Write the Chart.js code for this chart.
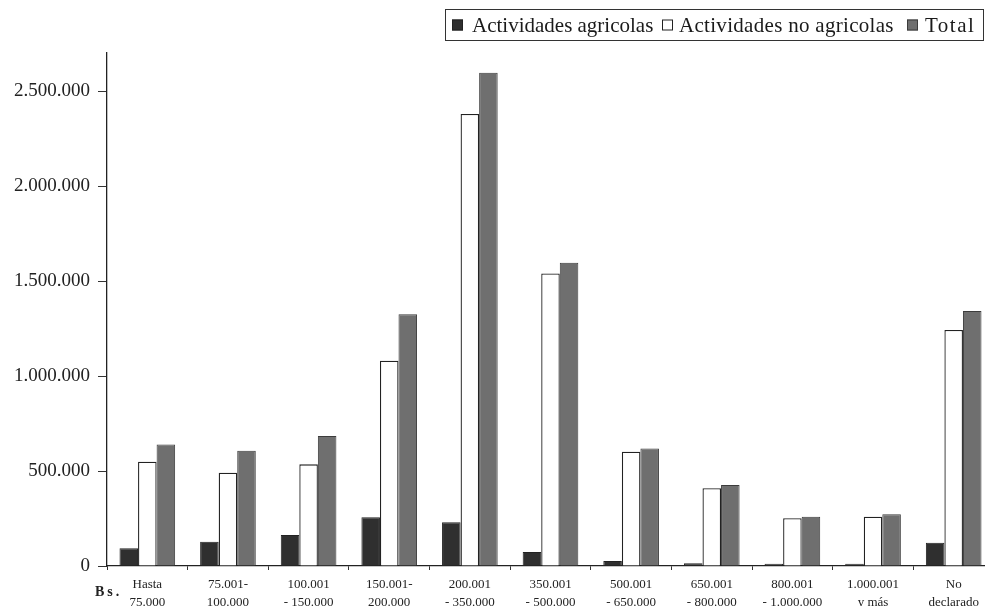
<!DOCTYPE html>
<html>
<head>
<meta charset="utf-8">
<script src="https://cdn.jsdelivr.net/npm/chart.js@4.4.1/dist/chart.umd.min.js"></script>
<style>
  html, body { margin: 0; padding: 0; background: #fff; overflow: hidden; width: 985px; height: 606px; }
  #wrap { width: 1000px; height: 606px; }
</style>
</head>
<body>
<div id="wrap"><canvas id="c" width="1000" height="606"></canvas></div>
<script>
const categories = [
  ["Hasta", "75.000"],
  ["75.001-", "100.000"],
  ["100.001", "- 150.000"],
  ["150.001-", "200.000"],
  ["200.001", "- 350.000"],
  ["350.001", "- 500.000"],
  ["500.001", "- 650.000"],
  ["650.001", "- 800.000"],
  ["800.001", "- 1.000.000"],
  ["1.000.001", "y más"],
  ["No", "declarado"]
];
const seriesNames = ["Actividades agricolas", "Actividades no agricolas", "Total"];
const agricolas   = [93000, 128000, 163000, 256000, 230000, 74000, 26000, 15000, 12000, 12000, 123000];
const noAgricolas = [549000, 491000, 535000, 1080000, 2379000, 1540000, 601000, 409000, 251000, 259000, 1242000];
const total       = [640000, 607000, 684000, 1325000, 2596000, 1596000, 619000, 426000, 259000, 272000, 1342000];
const yTicks = [0, 500000, 1000000, 1500000, 2000000, 2500000];
const currencyLabel = "Bs.";

const fills = ["#2f2f2f", "#ffffff", "#6f6f6f"];
const borders = ["#222222", "#222222", "#3c3c3c"];

function fmt(v) {
  return String(Math.round(v)).replace(/\B(?=(\d{3})+(?!\d))/g, ".");
}

const serif = "'Liberation Serif', 'Times New Roman', serif";

const extrasPlugin = {
  id: 'extras',
  afterDraw(chart) {
    const ctx = chart.ctx;
    ctx.save();
    // Legend
    ctx.font = "21px " + serif;
    ctx.textBaseline = "middle";
    const cy = 25;
    const box = 11;
    const itemStarts = [452, 662, 907];
    const textOffsets = [20, 17, 18];
    const spacings = ["0px", "0.3px", "1.5px"];
    for (let i = 0; i < seriesNames.length; i++) {
      const x = itemStarts[i];
      ctx.fillStyle = fills[i];
      ctx.fillRect(x, cy - box / 2, box, box);
      ctx.strokeStyle = borders[i];
      ctx.lineWidth = 1;
      ctx.strokeRect(x + 0.5, cy - box / 2 + 0.5, box - 1, box - 1);
      ctx.fillStyle = "#1a1a1a";
      ctx.letterSpacing = spacings[i];
      ctx.fillText(seriesNames[i], x + textOffsets[i], cy + 1);
    }
    ctx.letterSpacing = "0px";
    ctx.strokeStyle = "#333";
    ctx.lineWidth = 1;
    ctx.strokeRect(445.5, 9.5, 983 - 445, 31);
    // Currency label
    ctx.font = "bold 14px " + serif;
    ctx.fillStyle = "#222";
    ctx.textBaseline = "middle";
    const letters = currencyLabel.split("");
    let bx = 95;
    letters.forEach(ch => {
      ctx.fillText(ch, bx, 592);
      bx += ctx.measureText(ch).width + 3;
    });
    ctx.restore();
  }
};

new Chart(document.getElementById('c'), {
  type: 'bar',
  data: {
    labels: categories,
    datasets: [
      { label: seriesNames[0], data: agricolas, backgroundColor: fills[0], borderColor: borders[0], borderWidth: 1 },
      { label: seriesNames[1], data: noAgricolas, backgroundColor: fills[1], borderColor: borders[1], borderWidth: 1.3 },
      { label: seriesNames[2], data: total, backgroundColor: fills[2], borderColor: borders[2], borderWidth: 1 }
    ]
  },
  options: {
    responsive: false,
    devicePixelRatio: 1,
    animation: false,
    layout: { padding: { top: 53, right: 6, left: 0, bottom: 0 } },
    datasets: { bar: { categoryPercentage: 0.69, barPercentage: 1.0 } },
    plugins: {
      legend: { display: false },
      tooltip: { enabled: false }
    },
    scales: {
      x: {
        grid: { display: true, drawOnChartArea: false, drawTicks: true, tickLength: 4, color: "#333", offset: true },
        border: { display: true, color: "#222", width: 1.3 },
        ticks: {
          color: "#222",
          font: { family: serif, size: 13, lineHeight: 1.35 },
          padding: 6,
          maxRotation: 0,
          autoSkip: false
        },
        afterFit(scale) { scale.height = 40; }
      },
      y: {
        min: 0,
        max: 2700000,
        grid: { display: true, drawOnChartArea: false, drawTicks: true, tickLength: 9, color: "#333" },
        border: { display: true, color: "#222", width: 1.3 },
        afterBuildTicks(scale) { scale.ticks = yTicks.map(v => ({ value: v })); },
        ticks: {
          color: "#222",
          font: { family: serif, size: 19 },
          padding: 8,
          callback: (v) => fmt(v)
        },
        afterFit(scale) { scale.width = 107; }
      }
    }
  },
  plugins: [extrasPlugin]
});
</script>
</body>
</html>
